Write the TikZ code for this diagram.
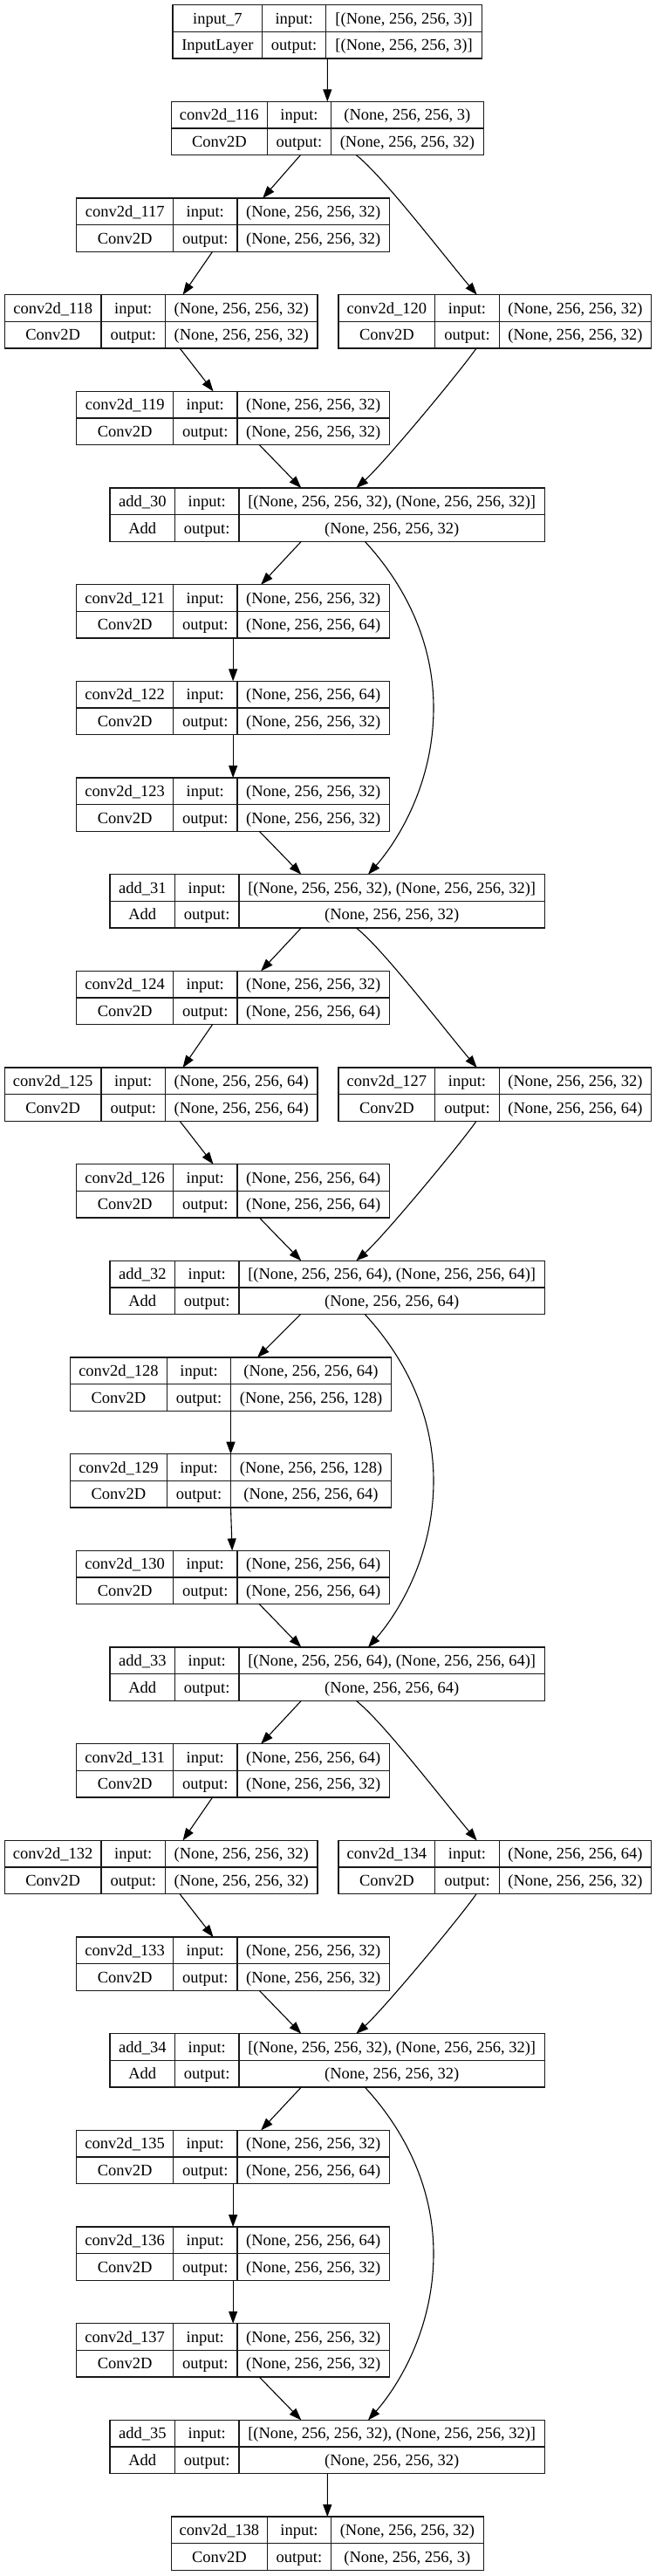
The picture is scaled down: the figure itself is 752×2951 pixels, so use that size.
\documentclass[tikz,border=0pt]{standalone}
\usepackage{fontspec}
\setmainfont{Liberation Serif}
\usetikzlibrary{arrows.meta,calc}

\tikzset{
  recbox/.style={draw=black!90, line width=1.3pt, inner sep=0pt, outer sep=0pt},
  recline/.style={draw=black!90, line width=1.3pt},
  celltext/.style={inner sep=0pt, anchor=base, font=\fontsize{18.5}{22}\selectfont},
  arr/.style={line width=1.1pt, -{Triangle[length=14pt,width=10pt]}},
}

\newcommand\defcols[5]{\expandafter\def\csname cols#1\endcsname{\def\xa{#2}\def\xb{#3}\def\xc{#4}\def\xd{#5}}}
\defcols{A}{198.1}{300.7}{373.6}{552.5}
\defcols{B}{196.2}{306.5}{379.4}{554.4}
\defcols{C}{87.8}{198.6}{271.9}{446.5}
\defcols{D}{5.3}{116.1}{189.4}{364.0}
\defcols{E}{388.0}{498.8}{572.2}{746.8}
\defcols{F}{126.1}{200.5}{273.9}{624.5}
\defcols{G}{80.6}{191.4}{264.7}{448.4}

\newcommand\rec[7]{%
  \csname cols#2\endcsname
  \pgfmathsetmacro\yt{5.67+110.67*#3}%
  \pgfmathsetmacro\ybot{\yt+61.3}%
  \pgfmathsetmacro\wdt{\xd-\xa}%
  \pgfmathsetmacro\cx{(\xa+\xd)/2}%
  \pgfmathsetmacro\cy{\yt+30.65}%
  \node[recbox, minimum width=\wdt pt, minimum height=61.3pt] (#1) at (\cx,\cy) {};
  \draw[recline] (\xa,\cy) -- (\xd,\cy) (\xb,\yt) -- (\xb,\ybot) (\xc,\yt) -- (\xc,\ybot);
  \pgfmathsetmacro\ya{\yt+15.3+6.2}%
  \pgfmathsetmacro\yb{\yt+46+6.2}%
  \node[celltext] at ({(\xa+\xb)/2},\ya) {#4};
  \node[celltext] at ({(\xa+\xb)/2},\yb) {#5};
  \node[celltext] at ({(\xb+\xc)/2},\ya) {input:};
  \node[celltext] at ({(\xb+\xc)/2},\yb) {output:};
  \node[celltext] at ({(\xc+\xd)/2},\ya) {#6};
  \node[celltext] at ({(\xc+\xd)/2},\yb) {#7};
}

\newcommand\skipedge[2]{\draw[arr] ([xshift=43pt]#1.south) .. controls +(31.7,34.3) and +(0,-91) .. ($(#1.south)!0.5!(#2.north)+(121.7,0)$) .. controls +(0,91) and +(30,-33.7) .. ([xshift=46.7pt]#2.north);}
\newcommand\branchout[2]{\draw[arr] ([xshift=33pt]#1.south) .. controls +(29.7,22.7) and +(-34.7,-40.7) .. ([xshift=-20.7pt]#2.north);}
\newcommand\branchin[2]{\draw[arr] ([xshift=-21.4pt]#1.south) .. controls +(-18,26) and +(31.7,-28.3) .. ([xshift=33pt]#2.north);}

\begin{document}
\begin{tikzpicture}[x=1pt,y=-1pt]
\useasboundingbox (0,0) rectangle (752,2951);

\def\sA{(None, 256, 256, 32)}
\def\sB{(None, 256, 256, 64)}
\def\sC{(None, 256, 256, 128)}
\def\lA{[(None, 256, 256, 32), (None, 256, 256, 32)]}
\def\lB{[(None, 256, 256, 64), (None, 256, 256, 64)]}

\rec{in7}{A}{0}{input\_7}{InputLayer}{[(None, 256, 256, 3)]}{[(None, 256, 256, 3)]}
\rec{c116}{B}{1}{conv2d\_116}{Conv2D}{(None, 256, 256, 3)}{\sA}
\rec{c117}{C}{2}{conv2d\_117}{Conv2D}{\sA}{\sA}
\rec{c118}{D}{3}{conv2d\_118}{Conv2D}{\sA}{\sA}
\rec{c120}{E}{3}{conv2d\_120}{Conv2D}{\sA}{\sA}
\rec{c119}{C}{4}{conv2d\_119}{Conv2D}{\sA}{\sA}
\rec{add30}{F}{5}{add\_30}{Add}{\lA}{\sA}
\rec{c121}{C}{6}{conv2d\_121}{Conv2D}{\sA}{\sB}
\rec{c122}{C}{7}{conv2d\_122}{Conv2D}{\sB}{\sA}
\rec{c123}{C}{8}{conv2d\_123}{Conv2D}{\sA}{\sA}
\rec{add31}{F}{9}{add\_31}{Add}{\lA}{\sA}
\rec{c124}{C}{10}{conv2d\_124}{Conv2D}{\sA}{\sB}
\rec{c125}{D}{11}{conv2d\_125}{Conv2D}{\sB}{\sB}
\rec{c127}{E}{11}{conv2d\_127}{Conv2D}{\sA}{\sB}
\rec{c126}{C}{12}{conv2d\_126}{Conv2D}{\sB}{\sB}
\rec{add32}{F}{13}{add\_32}{Add}{\lB}{\sB}
\rec{c128}{G}{14}{conv2d\_128}{Conv2D}{\sB}{\sC}
\rec{c129}{G}{15}{conv2d\_129}{Conv2D}{\sC}{\sB}
\rec{c130}{C}{16}{conv2d\_130}{Conv2D}{\sB}{\sB}
\rec{add33}{F}{17}{add\_33}{Add}{\lB}{\sB}
\rec{c131}{C}{18}{conv2d\_131}{Conv2D}{\sB}{\sA}
\rec{c132}{D}{19}{conv2d\_132}{Conv2D}{\sA}{\sA}
\rec{c134}{E}{19}{conv2d\_134}{Conv2D}{\sB}{\sA}
\rec{c133}{C}{20}{conv2d\_133}{Conv2D}{\sA}{\sA}
\rec{add34}{F}{21}{add\_34}{Add}{\lA}{\sA}
\rec{c135}{C}{22}{conv2d\_135}{Conv2D}{\sA}{\sB}
\rec{c136}{C}{23}{conv2d\_136}{Conv2D}{\sB}{\sA}
\rec{c137}{C}{24}{conv2d\_137}{Conv2D}{\sA}{\sA}
\rec{add35}{F}{25}{add\_35}{Add}{\lA}{\sA}
\rec{c138}{B}{26}{conv2d\_138}{Conv2D}{\sA}{(None, 256, 256, 3)}

% block 1
\draw[arr] (in7.south) -- (c116.north);
\draw[arr] ([xshift=-30.9pt]c116.south) -- ([xshift=34pt]c117.north);
\branchout{c116}{c120}
\draw[arr] ([xshift=-23.6pt]c117.south) -- ([xshift=24.9pt]c118.north);
\draw[arr] ([xshift=21.5pt]c118.south) -- ([xshift=-22.6pt]c119.north);
\branchin{c120}{add30}
\draw[arr] ([xshift=30.2pt]c119.south) -- ([xshift=-30pt]add30.north);
% block 2
\draw[arr] ([xshift=-30pt]add30.south) -- ([xshift=32pt]c121.north);
\skipedge{add30}{add31}
\draw[arr] (c121.south) -- (c122.north);
\draw[arr] (c122.south) -- (c123.north);
\draw[arr] ([xshift=30.2pt]c123.south) -- ([xshift=-30pt]add31.north);
% block 3
\draw[arr] ([xshift=-30pt]add31.south) -- ([xshift=32pt]c124.north);
\branchout{add31}{c127}
\draw[arr] ([xshift=-23.6pt]c124.south) -- ([xshift=24.9pt]c125.north);
\draw[arr] ([xshift=21.5pt]c125.south) -- ([xshift=-22.6pt]c126.north);
\branchin{c127}{add32}
\draw[arr] ([xshift=30.2pt]c126.south) -- ([xshift=-30pt]add32.north);
% block 4
\draw[arr] ([xshift=-30.9pt]add32.south) -- ([xshift=30.5pt]c128.north);
\skipedge{add32}{add33}
\draw[arr] (c128.south) -- (c129.north);
\draw[arr] (c129.south) -- ([xshift=-1pt]c130.north);
\draw[arr] ([xshift=30.2pt]c130.south) -- ([xshift=-30pt]add33.north);
% block 5
\draw[arr] ([xshift=-30pt]add33.south) -- ([xshift=32pt]c131.north);
\branchout{add33}{c134}
\draw[arr] ([xshift=-23.6pt]c131.south) -- ([xshift=24.9pt]c132.north);
\draw[arr] ([xshift=21.5pt]c132.south) -- ([xshift=-22.6pt]c133.north);
\branchin{c134}{add34}
\draw[arr] ([xshift=30.2pt]c133.south) -- ([xshift=-30pt]add34.north);
% block 6
\draw[arr] ([xshift=-30pt]add34.south) -- ([xshift=32pt]c135.north);
\skipedge{add34}{add35}
\draw[arr] (c135.south) -- (c136.north);
\draw[arr] (c136.south) -- (c137.north);
\draw[arr] ([xshift=30.2pt]c137.south) -- ([xshift=-30pt]add35.north);
\draw[arr] (add35.south) -- (c138.north);
\end{tikzpicture}
\end{document}
